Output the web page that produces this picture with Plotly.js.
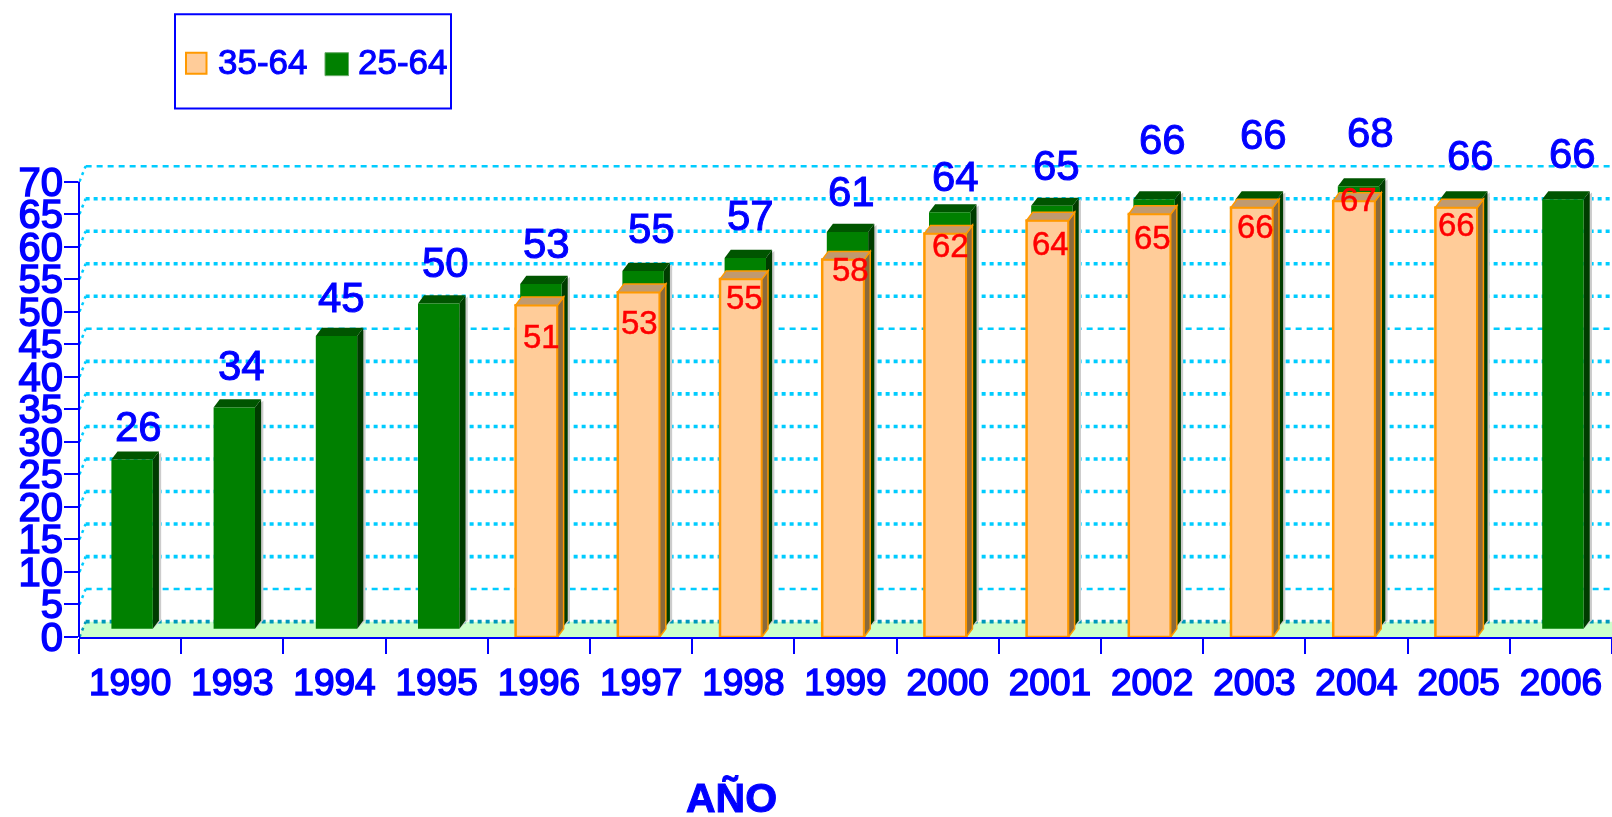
<!DOCTYPE html>
<html><head><meta charset="utf-8">
<script src="https://cdn.plot.ly/plotly-3.0.1.min.js"></script>
<style>html,body{margin:0;padding:0;background:#fff;overflow:hidden}#chart{width:1612px;height:817px;filter:blur(0.6px)}
#chart .xtick text,#chart .ytick text{stroke:#0000ff !important;stroke-width:1.5px !important}
#chart .annotation-text[style*="rgb(0, 0, 255)"]{stroke:#0000ff !important;stroke-width:1px !important}
#chart .annotation-text[style*="rgb(255, 0, 0)"]{stroke:#ff0000 !important;stroke-width:0.5px !important}
</style>
</head><body><div id="chart"></div>
<script>
const years = ['1990','1993','1994','1995','1996','1997','1998','1999','2000','2001','2002','2003','2004','2005','2006'];
const values2564 = [26,34,45,50,53,55,57,61,64,65,66,66,68,66,66];
const values3564 = [null,null,null,null,51,53,55,58,62,64,65,66,67,66,null];
const yTicks = [0,5,10,15,20,25,30,35,40,45,50,55,60,65,70];

// label placement as drawn in the source chart (px relative to bar top / category centre)
const greenDx = [8.5,9,6.7,8.3,8,10.4,7,5.7,7.3,7,10.6,9.3,13.9,11.3,11.3];
const greenDy = [33,42.5,38,41,40,42,42.5,40,36,40,59.5,65,54,43.5,45.5];
const orangeDx = [0,0,0,0,2.8,-1.7,0.9,4.6,3,0.7,0.3,1,1.5,-2,0];
const orangeDy = [0,0,0,0,31,30,18.5,10,12.3,22.6,23.6,18.5,-2,16.5,0];

const BLUE='#0000ff', CYAN='#00ccff', FONT='"Liberation Sans", Arial, sans-serif';
const W=1612,H=817,ML=79,MT=161.5,MB=179.6;
const plotH=H-MT-MB, plotW=W-ML;
const px=x=>(x-ML)/plotW, py=y=>1-(y-MT)/plotH;

const greenBase=1.26, depthV=1.26, depthX=0.06;
const gOff=-0.183,gW=0.405,oOff=-0.228,oW=0.41;
const xMin=-0.5,xMax=14.5;

const poly=(pts)=>'M'+pts.map(p=>p[0]+','+p[1]).join('L')+'Z';
const shapes=[];
// floor
shapes.push({type:'path',layer:'below',xref:'x',yref:'y',path:poly([[xMin,0],[xMax,0],[xMax,depthV+1.1],[xMin+depthX,depthV+1.1]]),fillcolor:'#ccffcc',line:{width:0}});
// grid on the back wall, with slanted marks on the side wall
yTicks.forEach(t=>{
  const thin=(t===70||t===45||t===5), v=t+2.36;
  shapes.push({type:'line',layer:'below',xref:'x',yref:'y',x0:xMin+0.065,x1:xMax,y0:v,y1:v,
    line:{color:t===0?'#0099bb':CYAN,width:thin?2.5:3.6,dash:thin?'6px,5px':'4px,4px'}});
  shapes.push({type:'line',layer:'below',xref:'x',yref:'y',x0:xMin+0.005,x1:xMin+0.065,y0:t,y1:v,
    line:{color:t===0?'#0099bb':CYAN,width:2.5,dash:'3px,4px'}});
});
// green faces
values2564.forEach((v,i)=>{
  const l=i+gOff,r=l+gW,b=greenBase,t=v+greenBase;
  shapes.push({type:'path',layer:'below',xref:'x',yref:'y',path:poly([[r,b],[r+depthX+0.022,b+depthV],[r+depthX+0.022,t+depthV-0.2],[r,t]]),fillcolor:'#cccccc',line:{width:0}});
  shapes.push({type:'path',layer:'below',xref:'x',yref:'y',path:poly([[r,b],[r+depthX,b+depthV],[r+depthX,t+depthV],[r,t]]),fillcolor:'#003c00',line:{width:0}});
  shapes.push({type:'path',layer:'below',xref:'x',yref:'y',path:poly([[l,t],[l+depthX,t+depthV],[r+depthX,t+depthV],[r,t]]),fillcolor:'#005500',line:{width:0}});
});
// orange faces
values3564.forEach((v,i)=>{
  if(v===null) return;
  const l=i+oOff,r=l+oW;
  shapes.push({type:'path',layer:'above',xref:'x',yref:'y',path:poly([[r,0],[r+depthX,depthV],[r+depthX,v+depthV],[r,v]]),fillcolor:'#8a6a3c',line:{color:'#ff9900',width:1.5}});
  shapes.push({type:'path',layer:'above',xref:'x',yref:'y',path:poly([[l,v],[l+depthX,v+depthV],[r+depthX,v+depthV],[r,v]]),fillcolor:'#c09a70',line:{color:'#ff9900',width:1.5}});
});
// y axis line stops at 70
shapes.push({type:'line',layer:'above',xref:'paper',yref:'y',x0:0,x1:0,y0:0,y1:70,line:{color:BLUE,width:2}});
// legend box and swatches
shapes.push({type:'rect',xref:'paper',yref:'paper',x0:px(175),x1:px(451),y0:py(108),y1:py(13.5),line:{color:BLUE,width:2},fillcolor:'#ffffff'});
shapes.push({type:'rect',xref:'paper',yref:'paper',x0:px(186),x1:px(206.5),y0:py(73),y1:py(52),line:{color:'#ff9900',width:2},fillcolor:'#ffcc99'});
shapes.push({type:'rect',xref:'paper',yref:'paper',x0:px(325),x1:px(348.5),y0:py(75),y1:py(52),line:{color:'#66aa66',width:1},fillcolor:'#008000'});

const annotations=[];
values2564.forEach((v,i)=>annotations.push({x:i,y:v+greenBase,xref:'x',yref:'y',text:String(v),showarrow:false,
  xanchor:'center',yanchor:'middle',xshift:greenDx[i],yshift:greenDy[i],font:{family:FONT,size:42,color:BLUE}}));
values3564.forEach((v,i)=>{ if(v!==null) annotations.push({x:i,y:v,xref:'x',yref:'y',text:String(v),showarrow:false,
  xanchor:'center',yanchor:'middle',xshift:orangeDx[i],yshift:-orangeDy[i],font:{family:FONT,size:33,color:'#ff0000'}});});
annotations.push({xref:'paper',yref:'paper',x:px(215.5),y:py(61),xanchor:'left',yanchor:'middle',showarrow:false,text:'35-64',font:{family:FONT,size:35,color:BLUE}});
annotations.push({xref:'paper',yref:'paper',x:px(355.5),y:py(61),xanchor:'left',yanchor:'middle',showarrow:false,text:'25-64',font:{family:FONT,size:35,color:BLUE}});
annotations.push({xref:'paper',yref:'paper',x:px(731),y:py(799),xanchor:'center',yanchor:'middle',showarrow:false,text:'<b>AÑO</b>',font:{family:FONT,size:41,color:BLUE}});

const data=[
 {type:'bar',name:'25-64',x:years,y:values2564,base:greenBase,offset:gOff,width:gW,marker:{color:'#008000',line:{width:0}},hoverinfo:'x+y'},
 {type:'bar',name:'35-64',x:years,y:values3564,offset:oOff,width:oW,marker:{color:'#ffcc99',line:{color:'#ff9900',width:2.5}},hoverinfo:'x+y'}
];
const layout={
 width:W,height:H,autosize:false,showlegend:false,barmode:'overlay',
 paper_bgcolor:'#ffffff',plot_bgcolor:'#ffffff',
 margin:{l:ML,r:0,t:MT,b:MB,pad:0},
 font:{family:FONT,color:BLUE},
 xaxis:{type:'category',categoryorder:'array',categoryarray:years,range:[xMin,xMax],tickson:'boundaries',
   ticks:'outside',ticklen:15,tickwidth:2,tickcolor:BLUE,showline:true,linecolor:BLUE,linewidth:2,showgrid:false,zeroline:false,
   tickfont:{family:FONT,size:37,color:BLUE},ticklabelstandoff:12,fixedrange:true},
 yaxis:{range:[0,73],tickvals:yTicks,ticktext:yTicks.map(String),ticks:'outside',ticklen:14,tickwidth:2,tickcolor:BLUE,showline:false,showgrid:false,zeroline:false,
   tickfont:{family:FONT,size:40,color:BLUE},ticklabelstandoff:-7,fixedrange:true},
 shapes,annotations
};
Plotly.newPlot('chart',data,layout,{staticPlot:true,displayModeBar:false});
</script></body></html>
